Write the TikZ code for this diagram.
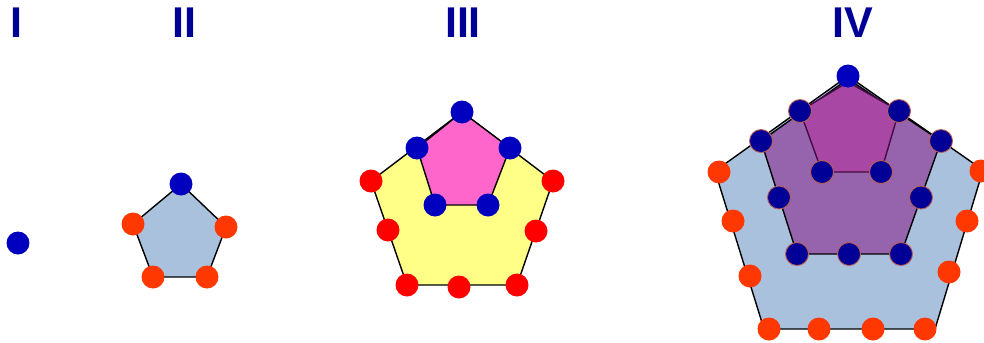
\documentclass[tikz,border=0pt]{standalone}
\usepackage{fontspec}
\setsansfont{Liberation Sans}
\usetikzlibrary{calc}
\definecolor{DotBlue}{RGB}{0,0,190}
\definecolor{DotNavy}{RGB}{0,0,150}
\definecolor{DotOrange}{RGB}{255,55,0}
\definecolor{DotRed}{RGB}{255,0,0}
\definecolor{RimBrown}{RGB}{190,95,85}
\definecolor{TitleBlue}{RGB}{0,0,150}
\definecolor{SteelFill}{RGB}{170,193,222}
\definecolor{LemonFill}{RGB}{255,255,136}
\definecolor{PinkFill}{RGB}{255,102,204}
\definecolor{PlumFill}{RGB}{150,100,172}
\definecolor{OrchidFill}{RGB}{168,72,164}
\definecolor{PlumLine}{RGB}{70,10,70}
\tikzset{
  pent/.style={draw=black,line width=0.8pt,line join=miter},
  dot/.style={circle,inner sep=0pt,minimum size=0.46cm},
  bdot/.style={dot,fill=DotBlue},
  ndot/.style={dot,fill=DotNavy,draw=RimBrown,line width=0.5pt},
  odot/.style={dot,fill=DotOrange},
  rdot/.style={dot,fill=DotRed},
}
\tikzset{title/.style={inner sep=0pt,text=TitleBlue,font=\sffamily\bfseries\fontsize{24.5}{29}\selectfont}}

\begin{document}
\begin{tikzpicture}[x=0.02cm,y=-0.02cm]
\useasboundingbox (0,0) rectangle (984,342);
% titles
\node[title] (t1) at (16,23) {I};
\node[title] (t2) at (184,23) {II};
\node[title] (t3) at (463,23) {III};
\node[title] (t4) at (853,23) {IV};
% I
\node[bdot] (p1) at (18,243) {};
% II
\coordinate (a2) at (181,184);
\coordinate (ul2) at (133,224);
\coordinate (bl2) at (153,277);
\coordinate (br2) at (207,277);
\coordinate (ur2) at (226,227);
\draw[pent,fill=SteelFill] (a2) -- (ul2) -- (bl2) -- (br2) -- (ur2) -- cycle;
\node[bdot] (p2a) at (a2) {};
\foreach \p in {ul2,bl2,br2,ur2}
  \node[odot] (p\p) at (\p) {};
% III
\coordinate (a3) at (462,112);
\coordinate (ul3) at (371,181);
\coordinate (lm3) at (388,230);
\coordinate (bl3) at (407,285);
\coordinate (bm3) at (459,287);
\coordinate (br3) at (517,285);
\coordinate (rm3) at (536,231);
\coordinate (ur3) at (553,181);
\coordinate (iul3) at (417,148);
\coordinate (ibl3) at (435,205);
\coordinate (ibr3) at (488,205);
\coordinate (iur3) at (510,148);
\draw[pent,fill=LemonFill] (a3) -- (ul3) -- (bl3) -- (br3) -- (ur3) -- cycle;
\draw[pent,fill=PinkFill] (a3) -- (iul3) -- (ibl3) -- (ibr3) -- (iur3) -- cycle;
\foreach \p in {a3,iul3,ibl3,ibr3,iur3}
  \node[bdot] (p\p) at (\p) {};
\foreach \p in {ul3,lm3,bl3,bm3,br3,rm3,ur3}
  \node[rdot] (p\p) at (\p) {};
% IV
\coordinate (a4) at (848,76);
\coordinate (ul4) at (715,171);
\coordinate (bl4) at (764,329);
\coordinate (br4) at (935,329);
\coordinate (ur4) at (983,170);
\coordinate (ma4) at (848,79);
\coordinate (mul4) at (761,141);
\coordinate (mbl4) at (797,254);
\coordinate (mbr4) at (901,254);
\coordinate (mur4) at (941,141);
\coordinate (ia4) at (848,82);
\coordinate (iul4) at (800,111);
\coordinate (ibl4) at (822,172);
\coordinate (ibr4) at (881,172);
\coordinate (iur4) at (899,111);
\draw[pent,fill=SteelFill] (a4) -- (ul4) -- (bl4) -- (br4) -- (ur4) -- cycle;
\draw[pent,fill=PlumFill] (ma4) -- (mul4) -- (mbl4) -- (mbr4) -- (mur4) -- cycle;
\draw[pent,draw=PlumLine,fill=OrchidFill] (ia4) -- (iul4) -- (ibl4) -- (ibr4) -- (iur4) -- cycle;
\node[bdot] (p4a) at (a4) {};
\foreach \p in {iul4,ibl4,ibr4,iur4,mul4,mbl4,mbr4,mur4}
  \node[ndot] (p\p) at (\p) {};
\node[ndot] (pmlm4) at ($(mul4)!0.5!(mbl4)$) {};
\node[ndot] (pmbm4) at ($(mbl4)!0.5!(mbr4)$) {};
\node[ndot] (pmrm4) at ($(mbr4)!0.5!(mur4)$) {};
% outer gnomon, ten dots
\foreach \x/\y [count=\i] in {719/172,733/221,750/276,769/329,819/329,
    873/329,925/329,949/272,967/221,981/171}
  \node[odot] (po\i) at (\x,\y) {};
\end{tikzpicture}
\end{document}
